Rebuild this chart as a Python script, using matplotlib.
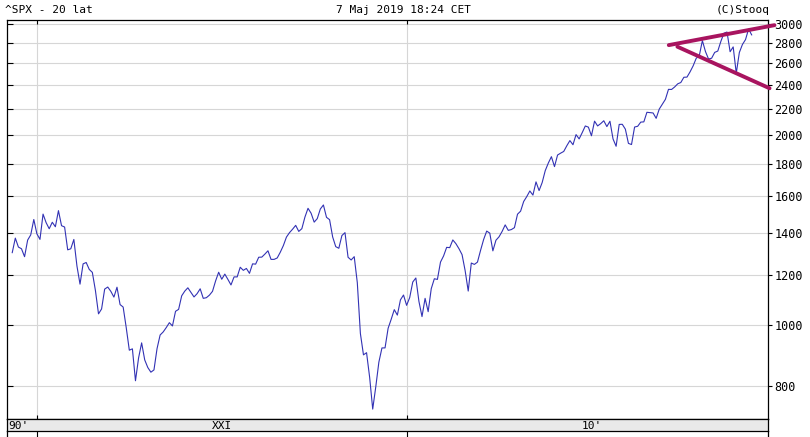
import numpy as np
import matplotlib
matplotlib.use('Agg')
import matplotlib.pyplot as plt
from matplotlib.lines import Line2D
from matplotlib.ticker import FixedLocator, FixedFormatter, NullLocator
import matplotlib.transforms as mtransforms

# monthly closes of ^SPX, May 1999 .. May 2019
y1999 = [1301.8, 1372.7, 1328.7, 1320.4, 1282.7, 1362.9, 1388.9, 1469.3]
y2000 = [1394.5, 1366.4, 1498.6, 1452.4, 1420.6, 1454.6, 1430.8, 1517.7, 1436.5, 1429.4, 1315.2, 1320.3]
y2001 = [1366.0, 1239.9, 1160.3, 1249.5, 1255.8, 1224.4, 1211.2, 1133.6, 1040.9, 1059.8, 1139.5, 1148.1]
y2002 = [1130.2, 1106.7, 1147.4, 1076.9, 1067.1, 989.8, 911.6, 916.1, 815.3, 885.8, 936.3, 879.8]
y2003 = [855.7, 841.2, 848.2, 916.9, 963.6, 974.5, 990.3, 1008.0, 996.0, 1050.7, 1058.2, 1111.9]
y2004 = [1131.1, 1144.9, 1126.2, 1107.3, 1120.7, 1140.8, 1101.7, 1104.2, 1114.6, 1130.2, 1173.8, 1211.9]
y2005 = [1181.3, 1203.6, 1180.6, 1156.9, 1191.5, 1191.3, 1234.2, 1220.3, 1228.8, 1207.0, 1249.5, 1248.3]
y2006 = [1280.1, 1280.7, 1294.9, 1310.6, 1270.1, 1270.2, 1276.7, 1303.8, 1335.9, 1377.9, 1400.6, 1418.3]
y2007 = [1438.2, 1406.8, 1420.9, 1482.4, 1530.6, 1503.4, 1455.3, 1473.9, 1526.8, 1549.4, 1481.1, 1468.4]
y2008 = [1378.6, 1330.6, 1322.7, 1385.6, 1400.4, 1280.0, 1267.4, 1282.8, 1166.4, 968.8, 896.2, 903.3]
y2009 = [825.9, 735.1, 797.9, 872.8, 919.1, 919.3, 987.5, 1020.6, 1057.1, 1036.2, 1095.6, 1115.1]
y2010 = [1073.9, 1104.5, 1169.4, 1186.7, 1089.4, 1030.7, 1101.6, 1049.3, 1141.2, 1183.3, 1180.6, 1257.6]
y2011 = [1286.1, 1327.2, 1325.8, 1363.6, 1345.2, 1320.6, 1292.3, 1218.9, 1131.4, 1253.3, 1247.0, 1257.6]
y2012 = [1312.4, 1365.7, 1408.5, 1397.9, 1310.3, 1362.2, 1379.3, 1406.6, 1440.7, 1412.2, 1416.2, 1426.2]
y2013 = [1498.1, 1514.7, 1569.2, 1597.6, 1630.7, 1606.3, 1685.7, 1633.0, 1681.6, 1756.5, 1805.8, 1848.4]
y2014 = [1782.6, 1859.5, 1872.3, 1883.9, 1923.6, 1960.2, 1930.7, 2003.4, 1972.3, 2018.1, 2067.6, 2058.9]
y2015 = [1995.0, 2104.5, 2067.9, 2085.5, 2107.4, 2063.1, 2103.8, 1972.2, 1920.0, 2079.4, 2080.4, 2043.9]
y2016 = [1940.2, 1932.2, 2059.7, 2065.3, 2097.0, 2098.9, 2173.6, 2171.0, 2168.3, 2126.2, 2199.0, 2238.8]
y2017 = [2278.9, 2363.6, 2362.7, 2384.2, 2411.8, 2423.4, 2470.3, 2471.7, 2519.4, 2575.3, 2647.6, 2673.6]
y2018 = [2823.8, 2713.8, 2640.9, 2648.1, 2705.3, 2718.4, 2816.3, 2901.5, 2914.0, 2711.7, 2760.2, 2506.9]
y2019 = [2704.1, 2784.5, 2834.4, 2945.8, 2884.0]

# x is counted in months from Jan 2000
start_month = -8

# trend lines drawn on the chart: (month, value)
upper_line = [(205.1, 2778), (239.4, 2988)]
lower_line = [(207.9, 2762), (237.8, 2373)]

yticks = [800, 1000, 1200, 1400, 1600, 1800, 2000, 2200, 2400, 2600, 2800, 3000]
decade_marks = [0, 120]
band_labels = ["90'", "XXI", "10'"]

title_left = '^SPX - 20 lat'
title_mid = '7 Maj 2019 18:24 CET'
title_right = '(C)Stooq'

closes = (y1999 + y2000 + y2001 + y2002 + y2003 + y2004 + y2005 + y2006 + y2007
          + y2008 + y2009 + y2010 + y2011 + y2012 + y2013 + y2014 + y2015
          + y2016 + y2017 + y2018 + y2019)
months = np.arange(start_month, start_month + len(closes))

W, H = 810, 437
mono = 'DejaVu Sans Mono'


def box(l, t, r, b):
    return [l / W, 1 - b / H, (r - l) / W, (b - t) / H]


fig = plt.figure(figsize=(W / 100, H / 100), dpi=100)
ax = fig.add_axes(box(7, 20, 768, 419))
band = fig.add_axes(box(7, 419, 768, 431), sharex=ax)

xmin, xmax = -9.7, 237.3

# price line
ax.plot(months, closes, color='#3232b4', linewidth=0.8)

# trend lines
for seg in (upper_line, lower_line):
    ax.plot([p[0] for p in seg], [p[1] for p in seg], color='#a8145f',
            linewidth=2.8, solid_capstyle='round', clip_on=False, zorder=5)

ax.set_yscale('log')
ax.set_ylim(709, 3045)
ax.set_xlim(xmin, xmax)

# grid
for v in yticks:
    ax.axhline(v, color='#d6d6d6', linewidth=0.8, zorder=0)
for m in decade_marks:
    ax.axvline(m, color='#d6d6d6', linewidth=0.8, zorder=0)

# y axis: labels on the right, ticks out on right, in on left
ax.yaxis.set_major_locator(FixedLocator(yticks))
ax.yaxis.set_major_formatter(FixedFormatter([str(v) for v in yticks]))
ax.yaxis.set_minor_locator(NullLocator())
ax.tick_params(axis='y', which='major', left=False, right=True, labelleft=False,
               labelright=True, direction='out', length=3, width=0.8, pad=1.5,
               labelsize=8.5)
for lab in ax.get_yticklabels():
    lab.set_family(mono)

sec = ax.secondary_yaxis('left')
sec.yaxis.set_major_locator(FixedLocator(yticks))
sec.yaxis.set_minor_locator(NullLocator())
sec.tick_params(axis='y', direction='in', length=4, width=0.8, labelleft=False)
sec.spines['left'].set_visible(False)

# x ticks inside the plot frame
ax.set_xticks(decade_marks)
ax.tick_params(axis='x', top=True, bottom=True, direction='in', length=3,
               width=0.8, labelbottom=False)

for s in ax.spines.values():
    s.set_linewidth(0.9)

# decade band under the plot
band.set_facecolor('#e9e9e9')
band.set_yticks([])
band.tick_params(axis='x', direction='out', length=4.5, width=0.8,
                 labelbottom=False)
for s in band.spines.values():
    s.set_linewidth(0.9)

trans = mtransforms.blended_transform_factory(band.transData, band.transAxes)
label_pos = [-6, 60, 180]
for pos, txt in zip(label_pos, band_labels):
    band.text(pos, 0.45, txt, transform=trans, ha='center', va='center',
              fontsize=8, family=mono)

# side axis lines run down to the bottom edge
for xp in (7, 768):
    fig.add_artist(Line2D([xp / W, xp / W], [0, 1 - 431 / H],
                          transform=fig.transFigure, color='black', linewidth=0.9))

# header
fig.text(5 / W, 1 - 10 / H, title_left, ha='left', va='center', fontsize=8, family=mono)
fig.text(404 / W, 1 - 10 / H, title_mid, ha='center', va='center', fontsize=8, family=mono)
fig.text(770 / W, 1 - 10 / H, title_right, ha='right', va='center', fontsize=8, family=mono)

fig.savefig('out.png', dpi=100)
